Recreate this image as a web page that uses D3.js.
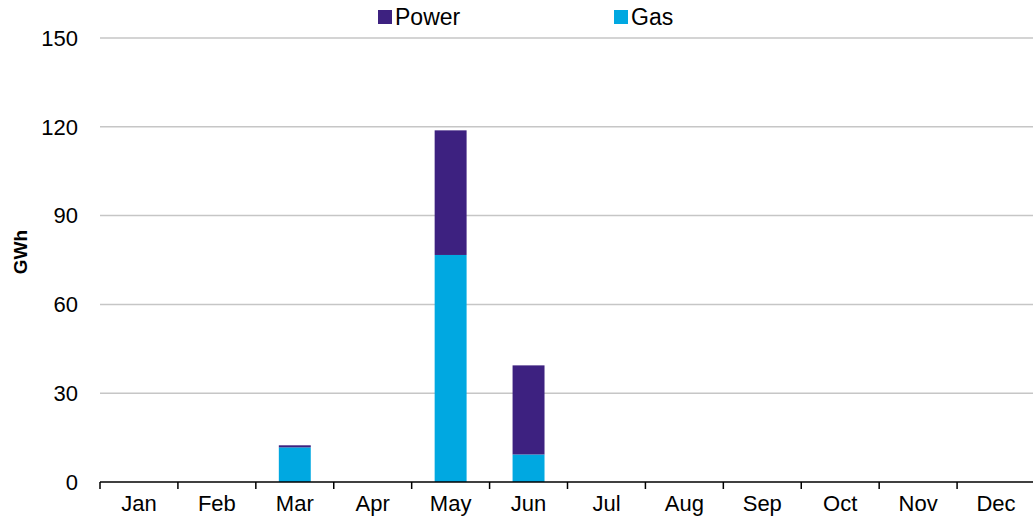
<!DOCTYPE html>
<html lang="en">
<head>
<meta charset="UTF-8">
<title>GWh by month</title>
<script src="https://d3js.org/d3.v7.min.js"></script>
<style>
  body { margin: 0; background: #fff; }
  svg { display: block; font-family: "Liberation Sans", Arial, sans-serif; }
</style>
</head>
<body>
<svg id="chart" width="1033" height="520"></svg>
<script>
// data
const months = ["Jan", "Feb", "Mar", "Apr", "May", "Jun", "Jul", "Aug", "Sep", "Oct", "Nov", "Dec"];
const gas = [0, 0, 11.7, 0, 76.7, 9.3, 0, 0, 0, 0, 0, 0];
const power = [0, 0, 0.7, 0, 42.1, 30.1, 0, 0, 0, 0, 0, 0];
const yTicks = [0, 30, 60, 90, 120, 150];
const seriesNames = ["Gas", "Power"];
const colors = { Gas: "#00a8e1", Power: "#3d2180" };

const svg = d3.select("#chart");
const plotLeft = 100, plotRight = 1035, plotTop = 38, plotBottom = 482;

const x = d3.scaleBand().domain(months).range([plotLeft, plotRight]).paddingInner(0.59).paddingOuter(0.295);
const xb = d3.scaleBand().domain(months).range([plotLeft, plotRight]); // full bands for ticks
const y = d3.scaleLinear().domain([0, 150]).range([plotBottom, plotTop]);

// gridlines
svg.append("g").selectAll("line")
  .data(yTicks.filter(d => d > 0))
  .join("line")
  .attr("x1", plotLeft).attr("x2", plotRight)
  .attr("y1", d => y(d)).attr("y2", d => y(d))
  .attr("stroke", "#c6c6c6").attr("stroke-width", 1.5);

// y labels
svg.append("g").selectAll("text")
  .data(yTicks)
  .join("text")
  .attr("x", 78).attr("y", d => y(d))
  .attr("dy", "0.35em")
  .attr("text-anchor", "end")
  .attr("font-size", 22)
  .attr("fill", "#000")
  .text(d => d);

// stacked bars
const table = months.map((m, i) => ({ month: m, Gas: gas[i], Power: power[i] }));
const stacked = d3.stack().keys(seriesNames)(table);

svg.append("g").selectAll("g")
  .data(stacked)
  .join("g")
  .attr("fill", d => colors[d.key])
  .selectAll("rect")
  .data(d => d.filter(p => p[1] - p[0] > 0))
  .join("rect")
  .attr("x", d => x(d.data.month))
  .attr("width", x.bandwidth())
  .attr("y", d => y(d[1]))
  .attr("height", d => y(d[0]) - y(d[1]));

// x axis
svg.append("line")
  .attr("x1", plotLeft).attr("x2", plotRight)
  .attr("y1", plotBottom).attr("y2", plotBottom)
  .attr("stroke", "#000").attr("stroke-width", 1.5);

svg.append("g").selectAll("line")
  .data(months)
  .join("line")
  .attr("x1", d => xb(d)).attr("x2", d => xb(d))
  .attr("y1", plotBottom).attr("y2", plotBottom + 7)
  .attr("stroke", "#000").attr("stroke-width", 1.5);

svg.append("g").selectAll("text")
  .data(months)
  .join("text")
  .attr("x", d => xb(d) + xb.bandwidth() / 2)
  .attr("y", 511)
  .attr("text-anchor", "middle")
  .attr("font-size", 22)
  .attr("fill", "#000")
  .text(d => d);

// y axis title
svg.append("text")
  .attr("transform", "translate(27,252) rotate(-90)")
  .attr("text-anchor", "middle")
  .attr("font-size", 19)
  .attr("font-weight", "bold")
  .text("GWh");

// legend
const legend = [{ name: "Power", x: 378 }, { name: "Gas", x: 614 }];
const lg = svg.append("g").selectAll("g")
  .data(legend)
  .join("g")
  .attr("transform", d => `translate(${d.x},10)`);
lg.append("rect").attr("width", 14).attr("height", 14).attr("fill", d => colors[d.name]);
lg.append("text").attr("x", 17).attr("y", 15).attr("font-size", 23).text(d => d.name);
</script>
</body>
</html>
